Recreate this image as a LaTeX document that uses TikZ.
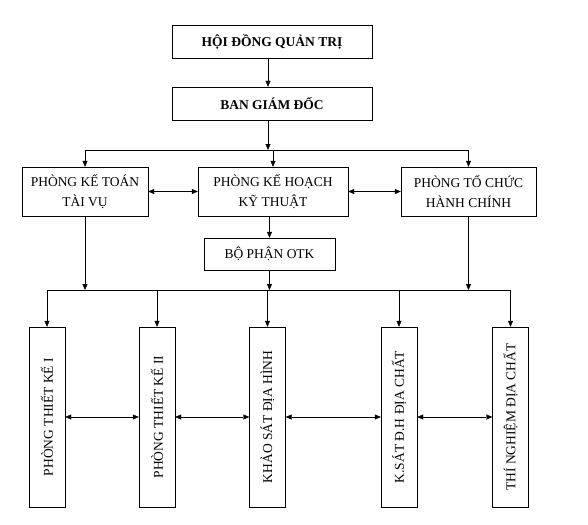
\documentclass[tikz,border=0pt]{standalone}
\usepackage{fontspec}
\setmainfont{Liberation Serif}
\usetikzlibrary{arrows.meta,positioning}

\begin{document}
\begin{tikzpicture}[x=1pt, y=-1pt,
    box/.style={draw, inner sep=0pt, align=center,
      font=\fontsize{13.5}{20}\selectfont},
    headbox/.style={box, minimum width=200pt, minimum height=33pt,
      font=\fontsize{13.5}{20}\selectfont\bfseries},
    deptbox/.style={box, minimum height=49pt},
    unitbox/.style={box, rotate=90, minimum width=180pt, minimum height=36pt},
    arr/.style={-{Triangle[length=6pt,width=5pt]}},
    dbl/.style={{Triangle[length=6pt,width=5pt]}-{Triangle[length=6pt,width=5pt]}}]
    \useasboundingbox (0,0) rectangle (588,524);
    \node[headbox] (hdqt) at (272,41.5) {HỘI ĐỒNG QUẢN TRỊ};
    \node[headbox] (bgd) at (272,103.5) {BAN GIÁM ĐỐC};
    \node[deptbox, minimum width=126pt] (pkt) at (85,191.5) {PHÒNG KẾ TOÁN\\TÀI VỤ};
    \node[deptbox, minimum width=150pt] (pkh) at (273,191.5) {PHÒNG KẾ HOẠCH\\KỸ THUẬT};
    \node[deptbox, minimum width=135pt] (ptc) at (468.5,191.5) {PHÒNG TỔ CHỨC\\HÀNH CHÍNH};
    \node[box, minimum width=131pt, minimum height=32pt] (otk) at (269.5,254) {BỘ PHẬN OTK};
    \node[unitbox] (tk1) at (47,417) {PHÒNG  THIẾT KẾ I};
    \node[unitbox] (tk2) at (157,417) {PHÒNG  THIẾT KẾ II};
    \node[unitbox] (ksdh) at (267.5,417) {KHẢO SÁT ĐỊA HÌNH};
    \node[unitbox] (ksdc) at (399,417) {K.SÁT Đ.H ĐỊA CHẤT};
    \node[unitbox] (tndc) at (510.5,417) {THÍ NGHIỆM ĐỊA CHẤT};
    \coordinate (bus1) at (268,150);
    \coordinate (bus2) at (268,290);

    \draw[arr] (hdqt.south -| bus1) -- (bgd.north -| bus1);
    \draw[arr] (bgd.south -| bus1) -- (bus1);
    \draw (pkt.north |- bus1) -- (ptc.north |- bus1);
    \foreach \n in {pkt,pkh,ptc}
      \draw[arr] (\n.north |- bus1) -- (\n.north);
    \draw[dbl] (pkt) -- (pkh);
    \draw[dbl] (pkh) -- (ptc);
    \draw[arr] (pkh.south -| otk) -- (otk.north);
    \foreach \n in {pkt,otk,ptc}
      \draw[arr] (\n.south) -- (\n.south |- bus2);
    \draw (tk1 |- bus2) -- (tndc |- bus2);
    \foreach \n in {tk1,tk2,ksdh,ksdc,tndc}
      \draw[arr] (\n |- bus2) -- (\n);
    \foreach \a/\b in {tk1/tk2,tk2/ksdh,ksdh/ksdc,ksdc/tndc}
      \draw[dbl] (\a) -- (\b);
\end{tikzpicture}
\end{document}
